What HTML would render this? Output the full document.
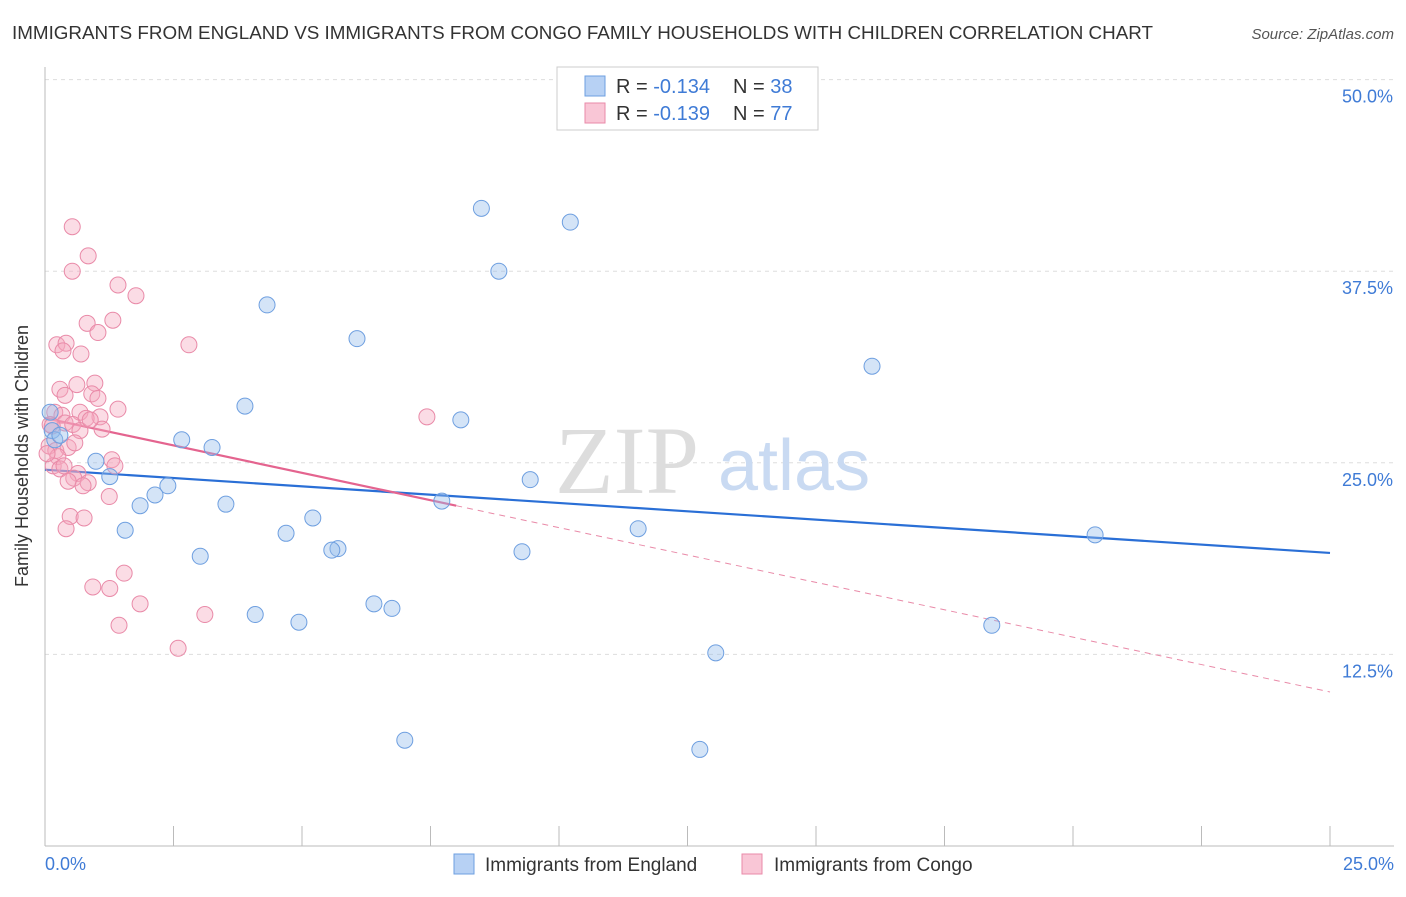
<!DOCTYPE html>
<html><head><meta charset="utf-8"><style>
body{margin:0;background:#fff;font-family:"Liberation Sans",sans-serif;}
</style></head><body>
<svg id="chart" width="1406" height="892" xmlns="http://www.w3.org/2000/svg">
<text x="12" y="39" font-size="18.8" fill="#333" textLength="1141" lengthAdjust="spacingAndGlyphs">IMMIGRANTS FROM ENGLAND VS IMMIGRANTS FROM CONGO FAMILY HOUSEHOLDS WITH CHILDREN CORRELATION CHART</text>
<text x="1394" y="39" font-size="15" fill="#555" font-style="italic" text-anchor="end">Source: ZipAtlas.com</text>
<g id="grid"></g>
<g>
<text x="555" y="493" font-size="96" font-family="Liberation Serif,serif" fill="#ddd">ZIP</text>
<text x="718" y="490" font-size="72" fill="#c9daf2">atlas</text>
</g>
<g id="axes"></g>
<g id="trends"></g>
<g id="points"></g>
<text x="28" y="456" font-size="18" fill="#333" transform="rotate(-90 28 456)" text-anchor="middle">Family Households with Children</text>
<g>
<rect x="557" y="67" width="261" height="63" fill="#fff" stroke="#ccc"/>
<rect x="585" y="76" width="20" height="20" fill="#b7d1f4" stroke="#6e9fe0"/>
<rect x="585" y="103" width="20" height="20" fill="#f9c6d6" stroke="#e98aa8"/>
<text x="616" y="93" font-size="20" fill="#333">R = <tspan fill="#3f7bd6">-0.134</tspan></text>
<text x="733" y="93" font-size="20" fill="#333">N = <tspan fill="#3f7bd6">38</tspan></text>
<text x="616" y="120" font-size="20" fill="#333">R = <tspan fill="#3f7bd6">-0.139</tspan></text>
<text x="733" y="120" font-size="20" fill="#333">N = <tspan fill="#3f7bd6">77</tspan></text>
</g>
<g>
<rect x="454" y="854" width="20" height="20" fill="#b7d1f4" stroke="#6e9fe0"/>
<text x="485" y="871" font-size="19" fill="#333">Immigrants from England</text>
<rect x="742" y="854" width="20" height="20" fill="#f9c6d6" stroke="#e98aa8"/>
<text x="774" y="871" font-size="19" fill="#333">Immigrants from Congo</text>
</g>
</svg>
<script>
const yTicks=[12.5,25,37.5,50];
const yTickLabels=["12.5%","25.0%","37.5%","50.0%"];
const xTickLabels=["0.0%","25.0%"];
const englandX=[8.49,10.22,8.83,4.32,6.07,16.09,3.89,8.09,2.66,3.25,0.99,1.26,9.44,2.39,2.14,1.85,3.52,7.72,1.56,5.21,4.69,11.54,20.43,5.70,5.58,9.28,3.02,6.40,6.75,4.09,4.94,18.42,13.05,7.0,12.74,0.10,0.14,0.19,0.29];
const englandY=[41.6,40.7,37.5,35.3,33.1,31.3,28.7,27.8,26.5,26.0,25.1,24.1,23.9,23.5,22.9,22.2,22.3,22.5,20.6,21.4,20.4,20.7,20.3,19.4,19.3,19.2,18.9,15.8,15.5,15.1,14.6,14.4,12.6,6.9,6.3,28.3,27.1,26.5,26.8];
const congoX=[0.53,0.84,0.53,1.42,1.77,0.82,1.32,1.03,2.80,0.23,0.41,0.35,0.70,0.29,0.62,0.97,0.39,0.91,1.03,1.42,0.19,0.33,0.68,1.07,0.80,0.39,0.54,0.10,0.68,1.11,0.08,0.21,0.45,0.58,0.25,1.30,1.36,0.16,0.29,0.64,0.56,0.84,0.45,0.74,1.25,0.49,0.76,0.41,1.54,0.93,1.26,1.85,1.44,3.11,2.59,7.43,0.14,0.88,0.04,0.37];
const congoY=[40.4,38.5,37.5,36.6,35.9,34.1,34.3,33.5,32.7,32.7,32.8,32.3,32.1,29.8,30.1,30.2,29.4,29.5,29.2,28.5,28.3,28.1,28.3,28.0,27.9,27.6,27.5,27.5,27.1,27.2,26.1,25.8,26.0,26.3,25.4,25.2,24.8,24.8,24.6,24.3,24.0,23.7,23.8,23.5,22.8,21.5,21.4,20.7,17.8,16.9,16.8,15.8,14.4,15.1,12.9,28.0,27.4,27.8,25.6,24.8];
const englandTrend=[24.55,19.12];
const congoTrend=[27.92,10.05];
const congoSolidEnd=8.0;
const NS="http://www.w3.org/2000/svg";
const X0=45,X1=1330,Y0=846,PX=191.6/12.5;
const sx=v=>X0+(v/25)*(X1-X0);
const sy=v=>Y0-v*PX;
function mk(tag,attrs,parent){const e=document.createElementNS(NS,tag);for(const k in attrs)e.setAttribute(k,attrs[k]);parent.appendChild(e);return e;}
const grid=document.getElementById('grid'),axes=document.getElementById('axes'),trends=document.getElementById('trends'),pts=document.getElementById('points');
yTicks.forEach((t,i)=>{
 const l=mk('line',{x1:X0,x2:1394,y1:sy(t),y2:sy(t),stroke:'#ddd','stroke-dasharray':'4,4'},grid);
 
 
 const tx=mk('text',{x:1393,y:sy(t)+23,'font-size':18,fill:'#3f7bd6','text-anchor':'end'},axes);
 tx.textContent=yTickLabels[i];
 
 
});
const ya=mk('line',{x1:X0,x2:X0,y1:67,y2:Y0,stroke:'#bbb'},axes);


const xa=mk('line',{x1:X0,x2:1394,y1:Y0,y2:Y0,stroke:'#bbb'},axes);


for(let i=0;i<=10;i++){
 const tk=mk('line',{x1:sx(i*2.5),x2:sx(i*2.5),y1:826,y2:Y0,stroke:'#bbb'},axes);
 
 
}
[[0,'start',45],[25,'end',1394]].forEach((d,i)=>{
 const tx=mk('text',{x:d[2],y:870,'font-size':18,fill:'#3f7bd6','text-anchor':d[1]},axes);
 tx.textContent=xTickLabels[i];
 
 
});
const cy=x=>congoTrend[0]+(congoTrend[1]-congoTrend[0])*x/25;
function dot(x,y,fill,stroke,name){
 const c=mk('circle',{cx:sx(x),cy:sy(y),r:8,fill:fill,stroke:stroke,'stroke-width':1},pts);
 
 
}
congoX.forEach((x,i)=>dot(x,congoY[i],'rgba(244,167,190,0.4)','#e98aa8','congo-point'));
englandX.forEach((x,i)=>dot(x,englandY[i],'rgba(147,187,235,0.4)','#6e9fe0','england-point'));
const tb=mk('line',{x1:sx(0),y1:sy(englandTrend[0]),x2:sx(25),y2:sy(englandTrend[1]),stroke:'#2a6fd6','stroke-width':2.2},trends);


const tp=mk('line',{x1:sx(0),y1:sy(cy(0)),x2:sx(congoSolidEnd),y2:sy(cy(congoSolidEnd)),stroke:'#e4648f','stroke-width':2.2},trends);


const td=mk('line',{x1:sx(congoSolidEnd),y1:sy(cy(congoSolidEnd)),x2:sx(25),y2:sy(cy(25)),stroke:'#e98aa8','stroke-width':1,'stroke-dasharray':'6,5'},trends);


</script>
</body></html>
